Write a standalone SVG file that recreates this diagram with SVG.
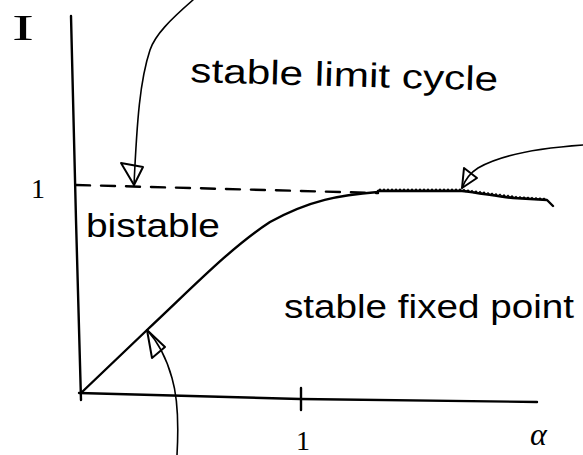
<svg xmlns="http://www.w3.org/2000/svg" width="583" height="455" viewBox="0 0 583 455">
<style>
.ax{fill:none;stroke:#000;stroke-width:2.4;stroke-linecap:round;stroke-linejoin:round}
.th{fill:none;stroke:#000;stroke-width:1.6;stroke-linecap:round;stroke-linejoin:round}
.hd{fill:none;stroke:#000;stroke-width:2;stroke-linejoin:round}
.wg{fill:none;stroke:#000;stroke-width:1.3;stroke-linejoin:miter}
.lbl{font-family:"Liberation Sans",Arial,sans-serif;font-size:34px;fill:#000}
.sym{font-family:"Liberation Serif","Times New Roman",serif;fill:#000}
</style>
<rect width="583" height="455" fill="#fff"/>
<g id="axes">
<path class="ax" d="M71,16 L76,220 L81,400"/>
<path class="ax" d="M79,393 L300,399 L537,402"/>
<path class="ax" d="M301,388 L301,410"/>
<text class="sym" x="12" y="40" font-size="36" textLength="22" lengthAdjust="spacingAndGlyphs">I</text>
<text class="sym" x="31" y="198" font-size="28">1</text>
<text class="sym" x="296" y="450" font-size="28">1</text>
<text class="sym" x="530" y="445" font-size="32" font-style="italic">α</text>
</g>
<g id="boundary">
<path class="ax" d="M76,185 L378,193" stroke-dasharray="14 11"/>
<path class="ax" d="M81,393 L147,330 C190,290 230,248 270,222 C310,200 340,195 378,192"/>
<path class="ax" d="M378,191 L462,191 C480,193 500,197 513,198 L547,200 L553,206"/>
<path class="wg" d="M378,191 l2,-1.8 l2,1.8 l2,-1.8 l2,1.8 l2,-1.8 l2,1.8 l2,-1.8 l2,1.8 l2,-1.8 l2,1.8 l2,-1.8 l2,1.8 l2,-1.8 l2,1.8 l2,-1.8 l2,1.8 l2,-1.8 l2,1.8 l2,-1.8 l2,1.8 l2,-1.8 l2,1.8 l2,-1.8 l2,1.8 l2,-1.8 l2,1.8 l2,-1.8 l2,1.8 l2,-1.8 l2,1.8 l2,-1.8 l2,1.8 l2,-1.8 l2,1.8 l2,-1.8 l2,1.8 l2,-1.8 l2,1.8 l2,-1.8 l2,1.8 l2,-1.8 l2,1.8 l2,-1.5 l2,2.04 l2,-1.5 l2,2.04 l2,-1.5 l2,2.04 l2,-1.5 l2,2.04 l2,-1.5 l2,2.04 l2,-1.5 l2,2.04 l2,-1.5 l2,2.04 l2,-1.5 l2,2.04 l2,-1.5 l2,2.04 l2,-1.5 l2,2.04 l2,-1.5 l2,2.04 l2,-1.5 l2,2.04 l2,-1.5 l2,2.04 l2,-1.5 l2,1.75 l2,-1.5 l2,1.75 l2,-1.5 l2,1.75 l2,-1.5 l2,1.75 l2,-1.5 l2,1.75 l2,-1.5 l2,1.75 l2,-1.5 l2,1.75 l2,-1.5 l2,1.75"/>
</g>
<g id="labels">
<text class="lbl" x="190" y="82" textLength="308" lengthAdjust="spacingAndGlyphs" transform="rotate(1.6 190 82)">stable limit cycle</text>
<text class="lbl" x="86" y="237" textLength="134" lengthAdjust="spacingAndGlyphs">bistable</text>
<text class="lbl" x="284" y="318" textLength="290" lengthAdjust="spacingAndGlyphs">stable fixed point</text>
</g>
<g id="connectors">
<path class="th" d="M193,0 C170,20 155,35 150,50 C140,80 137,120 134,185"/>
<path class="hd" d="M134,185 L121,163 L143,167 Z"/>
<path class="th" d="M583,145 C540,148 500,155 478,168 C470,173 465,180 462,188"/>
<path class="hd" d="M462,188 L464,168 L477,178 Z"/>
<path class="th" d="M177,455 C179,420 177,395 172,378 C167,360 158,342 147,330"/>
<path class="hd" d="M147,330 L152,358 L165,347 Z"/>
</g>
</svg>
